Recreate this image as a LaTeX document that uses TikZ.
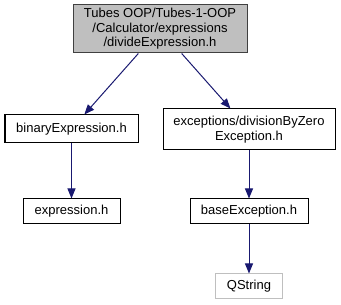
\documentclass[tikz,border=0pt]{standalone}
\usepackage{fontspec}
\setmainfont{Liberation Sans}
\usepackage{xcolor}
\usetikzlibrary{positioning,arrows.meta}

\definecolor{edgeblue}{HTML}{191970}
\definecolor{rootgray}{HTML}{BFBFBF}

\tikzset{
    filebox/.style={draw=black, fill=white, line width=1pt, inner sep=0pt, align=center,
        font=\fontsize{13}{14.5}\selectfont},
    incl/.style={-{Triangle[length=10pt,width=8pt]}, draw=edgeblue, line width=1pt}
}

\begin{document}
\begin{tikzpicture}[x=1pt, y=-1pt]
    \useasboundingbox (0,0) rectangle (341,305);

    % the file itself
    \node[filebox, draw=black!75, fill=rootgray, minimum width=174pt, minimum height=48pt] (root) at (160,29) {
        Tubes OOP/Tubes-1-OOP\\
        /Calculator/expressions\\
        /divideExpression.h
    };

    % direct includes
    \node[filebox, minimum width=133pt, minimum height=28pt] (binexpr) at (71.5,129) {binaryExpression.h};
    \node[filebox, minimum width=172pt, minimum height=41pt] (divzero) at (249,129.5) {
        exceptions/divisionByZero\\
        Exception.h
    };

    % second level
    \node[filebox, minimum width=97pt, minimum height=25pt] (expr) at (71.5,211.5) {expression.h};
    \node[filebox, minimum width=118pt, minimum height=25pt] (baseexc) at (249,211.5) {baseException.h};

    % system header
    \node[filebox, draw=rootgray, minimum width=67pt, minimum height=25pt] (qstring) at (249,286.5) {QString};

    \draw[incl] (root) -- (binexpr);
    \draw[incl] (root) -- (divzero);
    \draw[incl] (binexpr) -- (expr);
    \draw[incl] (divzero) -- (baseexc);
    \draw[incl] (baseexc) -- (qstring);
\end{tikzpicture}
\end{document}
